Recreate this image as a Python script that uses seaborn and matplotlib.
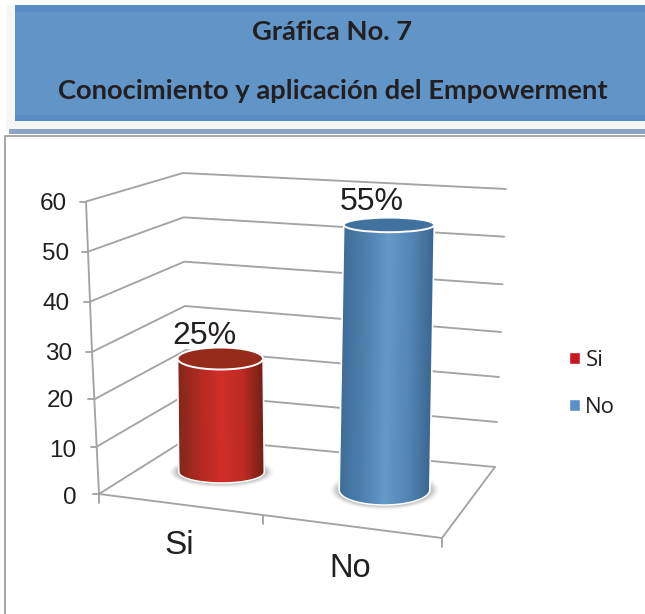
import numpy as np
import pandas as pd
import seaborn as sns
import matplotlib
matplotlib.use("Agg")
import matplotlib.pyplot as plt
from matplotlib.colors import LinearSegmentedColormap
from matplotlib.patches import Ellipse, PathPatch, Rectangle
from matplotlib.path import Path
from matplotlib.transforms import Affine2D

# ---- data -------------------------------------------------------------
categories = ["Si", "No"]
values = [25, 55]
value_labels = ["25%", "55%"]
axis_values = [0, 10, 20, 30, 40, 50, 60]
title_lines = ["Gráfica No. 7", "Conocimiento y aplicación del Empowerment"]

# ---- style ------------------------------------------------------------
W, H = 645, 614
INK = "#231f20"
GRID = "#a3a4a8"
legend_colors = ["#c8171f", "#5791c9"]
cap_colors = ["#962a1b", "#41729f"]
ramps = [["#82281c", "#b32a22", "#d02f27", "#bd2b23", "#6f2015"],
         ["#3f6d99", "#4f80ae", "#6699c8", "#5485b4", "#3a6690"]]

sns.set_style("white")
plt.rcParams["font.family"] = ["Liberation Sans", "DejaVu Sans"]

fig = plt.figure(figsize=(W / 100, H / 100), dpi=100, facecolor="white")

# pixel-space layer for the page furniture and the 3-D walls
deco = fig.add_axes([0, 0, 1, 1], zorder=1)
deco.set_xlim(0, W)
deco.set_ylim(H, 0)
deco.axis("off")

deco.add_patch(Rectangle((6, 5), W - 6, 124, fc="#f6f6f6", ec="none"))
deco.add_patch(Rectangle((15, 5), W - 15, 116, fc="#578cc4", ec="none"))
deco.add_patch(Rectangle((15, 12), W - 15, 103, fc="#6194c7", ec="none"))
deco.add_patch(Rectangle((9, 129), W - 9, 5, fc="#8ba3c4", ec="none"))
deco.plot([5, 5, W], [H, 136, 136], color="#a0a0a0", lw=1.3)

deco.text(332, 32, title_lines[0], family="Lato", weight="bold", fontsize=19.7,
          color=INK, ha="center", va="center")
deco.text(332.5, 91, title_lines[1], family="Lato", weight="bold", fontsize=19.7,
          color=INK, ha="center", va="center")

# wall geometry: anchors at levels 0, 30 and 60
anchor_levels = [0, 30, 60]
left_x, left_y = [99, 92, 86], [494, 352, 201.5]
mid_x, mid_y = [188, 185, 183], [438, 306, 173]
right_x, right_y = [495, 501, 506], [467, 332, 189]
label_right = [77, 76, 74, 72, 70, 69, 67]
label_y = [498, 451, 401, 353.5, 304.5, 254.5, 204.5]

for v, lr, ly in zip(axis_values, label_right, label_y):
    xs = [np.interp(v, anchor_levels, c) for c in (left_x, mid_x, right_x)]
    ys = [np.interp(v, anchor_levels, c) for c in (left_y, mid_y, right_y)]
    deco.plot(xs, ys, color=GRID, lw=1.35, solid_joinstyle="miter")
    deco.plot([xs[0] - 6, xs[0]], [ys[0], ys[0]], color=GRID, lw=1.35)
    deco.text(lr, ly, str(v), fontsize=17.5, color=INK, ha="right", va="center")

deco.plot(left_x, left_y, color=GRID, lw=1.35)
# floor front and right edges with category ticks
deco.plot([99, 442, 495], [494, 538, 467], color=GRID, lw=1.35)
for tx, ty in [(99, 494), (263, 515), (442, 538)]:
    deco.plot([tx, tx], [ty, ty + 8.5], color=GRID, lw=1.35)
deco.text(179.5, 546, categories[0], fontsize=24, color=INK, ha="center", va="center")
deco.text(350.5, 568.5, categories[1], fontsize=23.5, color=INK, ha="center", va="center")

# ---- bars -------------------------------------------------------------
ax = fig.add_axes([0, 0, 1, 1], zorder=2)
ax.patch.set_alpha(0)
df = pd.DataFrame({"categoria": categories, "valor": values})
sns.barplot(data=df, x="categoria", y="valor", hue="categoria",
            palette=legend_colors, dodge=False, width=0.5, ax=ax, legend=True,
            saturation=1)

PX_X, PX_Y = 163.0, 4.7                       # pixels per data unit
X0, Y0 = 221.5, 472.0                         # pixel position of (0, 0)
xlim = (-X0 / PX_X, (W - X0) / PX_X)
ylim = ((Y0 - H) / PX_Y, Y0 / PX_Y)

# per-bar perspective correction: width, vertical scale, base drop, lean
bar_width_px = [85.5, 90.5]
bar_scale_px = [4.54, 4.82]
bar_base_px = [472, 490]
bar_lean_px = [-1.2 / 25, 4.5 / 55]
cap_half_px = [11, 7.3]
base_half_px = [11, 15]

rects = sorted([p for p in ax.patches if p.get_width() > 0], key=lambda r: r.get_x())
for i, (rect, v) in enumerate(zip(rects, values)):
    w = bar_width_px[i] / PX_X
    d = bar_scale_px[i] / PX_Y
    f = (Y0 - bar_base_px[i]) / PX_Y
    c = bar_lean_px[i] / PX_X
    tf = Affine2D.from_values(1, 0, c, d, 0, f) + ax.transData
    rect.set_x(i - w / 2)
    rect.set_width(w)
    rect.set_transform(tf)
    rect.set_zorder(3)

    cap_h = cap_half_px[i] / bar_scale_px[i]
    base_h = base_half_px[i] / bar_scale_px[i]

    # contact shadow
    for grow, alpha in zip([9, 7, 5, 3], [0.07, 0.12, 0.16, 0.2]):
        ax.add_patch(Ellipse((i, 0), w + 2 * grow / PX_X,
                             2 * base_h + 2 * grow * 0.5 / bar_scale_px[i],
                             fc="#808080", ec="none", alpha=alpha,
                             transform=tf, zorder=2))

    # cylinder outline: body plus lower half of the base ellipse
    t = np.linspace(0, np.pi, 60)
    arc_x = i + w / 2 * np.cos(t)
    arc_y = -base_h * np.sin(t)
    verts = np.column_stack([np.r_[i - w / 2, i + w / 2, arc_x, i - w / 2],
                             np.r_[v, v, arc_y, v]])
    outline = Path(verts, closed=False)

    cmap = LinearSegmentedColormap.from_list(f"cyl{i}", ramps[i])
    im = ax.imshow(np.linspace(0, 1, 256)[None, :], cmap=cmap, aspect="auto",
                   extent=(i - w / 2, i + w / 2, -base_h * 1.2, v),
                   transform=tf, zorder=4, interpolation="bilinear")
    im.set_clip_path(outline, transform=tf)
    ax.add_patch(PathPatch(outline, fc="none", ec="white", lw=1.1,
                           transform=tf, zorder=5))
    ax.add_patch(Ellipse((i, v), w, 2 * cap_h, fc=cap_colors[i], ec="white",
                         lw=1.4, transform=tf, zorder=6))

ax.set_xlim(*xlim)
ax.set_ylim(*ylim)
ax.axis("off")

deco.text(204, 336, value_labels[0], fontsize=23, color=INK, ha="center",
          va="center", zorder=10)
deco.text(372, 202, value_labels[1], fontsize=23, color=INK, ha="center",
          va="center", zorder=10)

ax.legend(loc="upper left", bbox_to_anchor=(558 / W, 1 - 339 / H),
          bbox_transform=ax.transAxes, frameon=False,
          handlelength=0.48, handleheight=0.48, handletextpad=0.25,
          labelspacing=1.15, borderpad=0, labelcolor=INK,
          prop={"family": "Open Sans", "size": 16})

fig.savefig("out.png", dpi=100)
